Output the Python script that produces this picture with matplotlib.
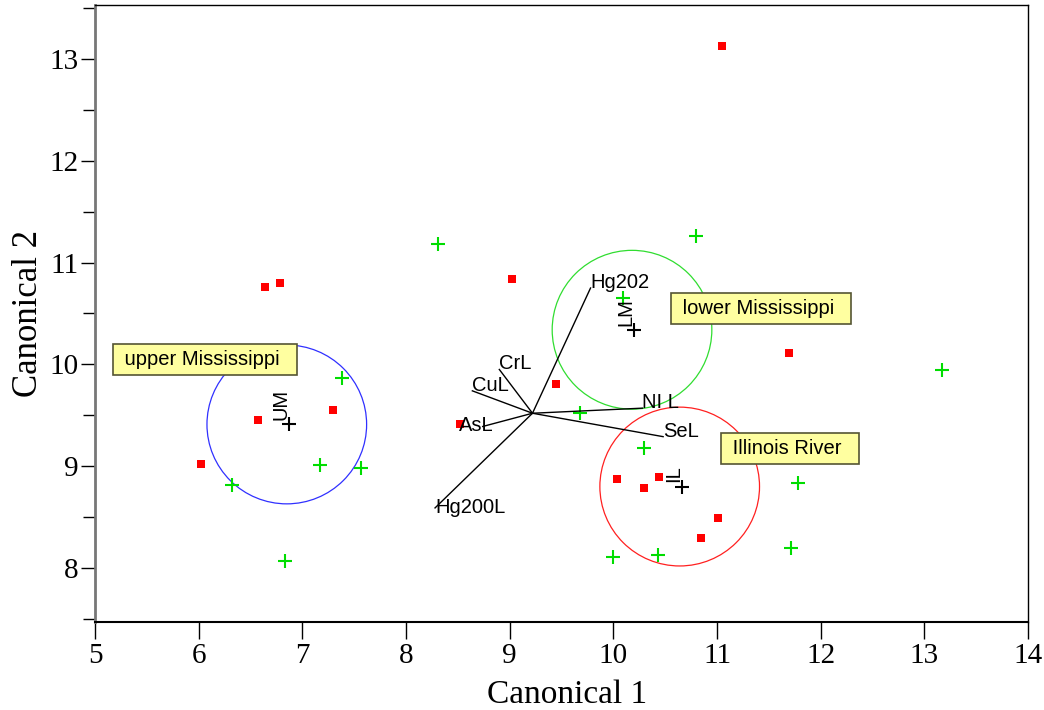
import matplotlib.pyplot as plt
from matplotlib.patches import Ellipse
from matplotlib.ticker import MultipleLocator

# Beobachtungen (rot) und Validierung (gruen)
red_x = [11.05, 9.02, 6.64, 6.78, 11.69, 9.45, 6.57, 7.30, 8.52, 6.02, 10.04, 10.30, 10.44, 11.01, 10.85]
red_y = [13.13, 10.84, 10.76, 10.80, 10.11, 9.81, 9.45, 9.55, 9.41, 9.02, 8.87, 8.79, 8.89, 8.49, 8.29]
green_x = [8.31, 10.80, 10.09, 7.38, 13.17, 9.68, 10.30, 7.17, 7.57, 6.32, 11.78, 6.83, 10.00, 10.43, 11.71]
green_y = [11.18, 11.26, 10.65, 9.87, 9.94, 9.52, 9.18, 9.01, 8.98, 8.82, 8.83, 8.07, 8.11, 8.13, 8.20]

# Gruppenmittel
groups = ["UM", "LM", "IL"]
group_x = [6.87, 10.20, 10.66]
group_y = [9.41, 10.34, 8.80]
group_colors = ["#3030ff", "#30dd30", "#ff2020"]
group_names = ["upper Mississippi", "lower Mississippi", "Illinois River"]

# Biplot-Strahlen
ray_origin = (9.22, 9.52)
ray_names = ["Hg202", "CrL", "CuL", "AsL", "NI L", "SeL", "Hg200L"]
ray_x = [9.78, 8.90, 8.64, 8.74, 10.28, 10.48, 8.28]
ray_y = [10.75, 9.95, 9.74, 9.39, 9.57, 9.29, 8.59]

fig = plt.figure(figsize=(10.44, 7.1), dpi=100)
ax = fig.add_axes([0.091, 0.124, 0.8937, 0.869])

for gx, gy, c in zip(group_x, group_y, group_colors):
    ax.add_patch(Ellipse((gx - 0.02, gy), 1.54, 1.56, fill=False, edgecolor=c, lw=0.9))

ax.plot(red_x, red_y, 's', color='red', markersize=5.5, markeredgewidth=0)
ax.plot(green_x, green_y, '+', color='#00dd00', markersize=10, markeredgewidth=1.5)

for name, ex, ey in zip(ray_names, ray_x, ray_y):
    ax.plot([ray_origin[0], ex], [ray_origin[1], ey], color='black', lw=1)
    if name == "AsL":
        ax.annotate(name, (ex, ey), xytext=(-17, 1), textcoords='offset points',
                    fontsize=14.5, family='Liberation Sans', va='center', ha='left')
    elif name == "Hg200L":
        ax.annotate(name, (ex, ey), xytext=(0, 0), textcoords='offset points',
                    fontsize=14.5, family='Liberation Sans', va='center', ha='left')
    else:
        ax.annotate(name, (ex, ey), xytext=(0, 4), textcoords='offset points',
                    fontsize=14.5, family='Liberation Sans', va='center', ha='left')

ax.plot(group_x, group_y, '+', color='black', markersize=10, markeredgewidth=1.5)
for g, gx, gy in zip(groups, group_x, group_y):
    ax.annotate(g, (gx, gy), xytext=(-6, 3), textcoords='offset points', rotation=90,
                fontsize=14.5, family='Liberation Sans', ha='center', va='bottom')

box_pos = [(5.23, 10.05), (10.61, 10.55), (11.10, 9.17)]
for name, (bx, by) in zip(group_names, box_pos):
    ax.text(bx, by, " " + name + "  ", fontsize=14.5, family='Liberation Sans', va='center', ha='left',
            bbox=dict(boxstyle='square,pad=0.3', facecolor='#ffffa0', edgecolor='#555533', lw=1.2))

ax.set_xlim(5, 14)
ax.set_ylim(7.47, 13.53)
ax.xaxis.set_major_locator(MultipleLocator(1))
ax.yaxis.set_major_locator(MultipleLocator(1))
ax.yaxis.set_minor_locator(MultipleLocator(0.5))
ax.tick_params(axis='x', direction='out', length=12, width=1, labelsize=21, pad=3)
ax.tick_params(axis='y', which='major', direction='out', length=10, width=1, labelsize=21, pad=2)
ax.tick_params(axis='y', which='minor', direction='out', length=9, width=1)
for lab in ax.get_xticklabels() + ax.get_yticklabels():
    lab.set_family('Liberation Serif')

ax.spines['left'].set_color('#777777')
ax.spines['left'].set_linewidth(2)
ax.spines['bottom'].set_linewidth(1.5)
ax.spines['top'].set_linewidth(1)
ax.spines['right'].set_linewidth(1)

ax.set_xlabel('Canonical 1', fontsize=24, family='Liberation Serif')
ax.set_ylabel('Canonical 2', fontsize=25, family='Liberation Serif')
ax.xaxis.set_label_coords(0.506, -0.094)
ax.yaxis.set_label_coords(-0.054, 0.5)

plt.savefig('out.png', dpi=100)
